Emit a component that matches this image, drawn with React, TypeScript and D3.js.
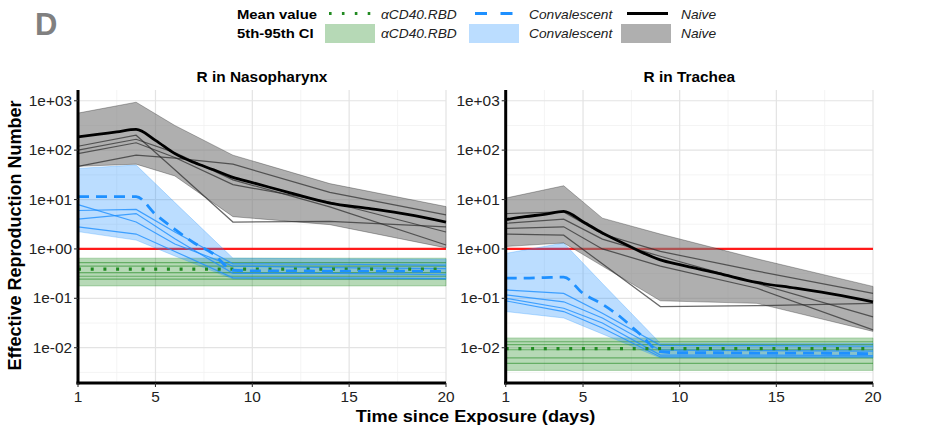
import React from "react";
import * as d3 from "d3";

// ---------- data ----------
const DAYS_MEAN = [1, 2, 3, 4, 5, 6, 7, 8, 9, 10, 12, 14, 16, 18, 20];
const DAYS_BAND = [1, 4, 6, 9, 14, 20];

// R in Nasopharynx
const NP_NAIVE_MEAN = [186, 209, 234, 263, 158, 85, 56, 40, 28, 22, 13.5, 8.5, 6.6, 5.0, 3.5];
const NP_NAIVE_HI = [562, 933, 316, 79, 21, 7.2];
const NP_NAIVE_LO = [47, 52, 30, 4.5, 3.1, 1.05];
const NP_NAIVE_IND = [
  [120, 200, 40, 3.5, 3.6, 2.8],
  [100, 166, 89, 25, 7.1, 1.2],
  [85, 141, 71, 20, 8.9, 2.2],
  [47, 79, 69, 52, 14, 4.9],
];
const NP_CONV_MEAN = [11.5, 11.5, 11.5, 11.5, 5.0, 2.5, 1.32, 0.79, 0.37, 0.36, 0.36, 0.355, 0.355, 0.355, 0.35];
const NP_CONV_HI = [42.7, 50, 8.7, 0.65, 0.63, 0.62];
const NP_CONV_LO = [2.24, 1.51, 0.72, 0.245, 0.24, 0.24];
const NP_CONV_IND = [
  [7.9, 3.5, 1.26, 0.45, 0.42, 0.4],
  [6.0, 6.3, 2.2, 0.5, 0.49, 0.47],
  [4.0, 5.2, 1.6, 0.32, 0.32, 0.3],
  [2.8, 2.0, 0.89, 0.26, 0.26, 0.25],
];
const NP_CD40_MEAN = [0.39, 0.39, 0.39, 0.39, 0.39, 0.39];
const NP_CD40_HI = [0.65, 0.65, 0.65, 0.65, 0.65, 0.65];
const NP_CD40_LO = [0.178, 0.178, 0.178, 0.178, 0.178, 0.178];
const NP_CD40_IND = [
  [0.53, 0.53, 0.53, 0.53, 0.53, 0.53],
  [0.45, 0.45, 0.45, 0.45, 0.45, 0.45],
  [0.33, 0.33, 0.33, 0.33, 0.33, 0.33],
  [0.28, 0.28, 0.28, 0.28, 0.28, 0.28],
  [0.245, 0.245, 0.245, 0.245, 0.245, 0.245],
];

// R in Trachea
const TR_NAIVE_MEAN = [3.9, 4.5, 5.0, 5.75, 3.55, 2.1, 1.35, 0.87, 0.6, 0.48, 0.32, 0.21, 0.16, 0.12, 0.085];
const TR_NAIVE_HI = [10.7, 19, 4.2, 2.0, 0.63, 0.174];
const TR_NAIVE_LO = [1.12, 1.32, 0.45, 0.089, 0.079, 0.0214];
const TR_NAIVE_IND = [
  [5.2, 5.6, 2.0, 0.89, 0.355, 0.126],
  [3.3, 4.0, 1.58, 0.71, 0.2, 0.042],
  [2.6, 2.8, 1.0, 0.45, 0.16, 0.023],
  [2.0, 1.9, 0.5, 0.068, 0.071, 0.079],
];
const TR_CONV_MEAN = [0.257, 0.257, 0.263, 0.269, 0.126, 0.076, 0.04, 0.018, 0.0083, 0.0079, 0.0079, 0.0078, 0.0078, 0.0077, 0.0076];
const TR_CONV_HI = [0.81, 1.32, 0.2, 0.0123, 0.0123, 0.0123];
const TR_CONV_LO = [0.054, 0.04, 0.019, 0.0062, 0.0062, 0.0062];
const TR_CONV_IND = [
  [0.148, 0.126, 0.05, 0.0112, 0.011, 0.0107],
  [0.117, 0.085, 0.04, 0.0089, 0.0087, 0.0085],
  [0.1, 0.063, 0.0316, 0.0071, 0.0071, 0.0069],
  [0.089, 0.054, 0.025, 0.0065, 0.0065, 0.0065],
];
const TR_CD40_MEAN = [0.0096, 0.0096, 0.0096, 0.0096, 0.0096, 0.0096];
const TR_CD40_HI = [0.0158, 0.0158, 0.0158, 0.0158, 0.0158, 0.0158];
const TR_CD40_LO = [0.00347, 0.00347, 0.00347, 0.00347, 0.00347, 0.00347];
const TR_CD40_IND = [
  [0.0132, 0.0132, 0.0132, 0.0132, 0.0132, 0.0132],
  [0.0115, 0.0115, 0.0115, 0.0115, 0.0115, 0.0115],
  [0.0091, 0.0091, 0.0091, 0.0091, 0.0091, 0.0091],
  [0.0062, 0.0062, 0.0062, 0.0062, 0.0062, 0.0062],
  [0.0048, 0.0048, 0.0048, 0.0048, 0.0048, 0.0048],
];

const PANEL_TITLES = ["R in Nasopharynx", "R in Trachea"];
const X_TICKS = [1, 5, 10, 15, 20];
const X_MINOR = [3, 7.5, 12.5, 17.5];
const Y_TICKS = [1000, 100, 10, 1, 0.1, 0.01];
const Y_TICK_LABELS = ["1e+03", "1e+02", "1e+01", "1e+00", "1e-01", "1e-02"];
const Y_MINOR_EXP = [2.5, 1.5, 0.5, -0.5, -1.5, -2.5];
const THRESHOLD = 1;
const Y_DOMAIN = [0.00193, 1650];
const X_DOMAIN = [1, 20];

const LEGEND_GROUPS = ["αCD40.RBD", "Convalescent", "Naive"];

// ---------- styling ----------
const FONT = "'Liberation Sans', Arial, Helvetica, sans-serif";
const SX = 1.1;
const COL = {
  cd40: "#228b22",
  conv: "#1e90ff",
  naive: "#000000",
};

const PANELS = [
  { x0: 78, x1: 446 },
  { x0: 505.7, x1: 873 },
];
const Y_TOP = 90;
const Y_BOT = 383;

function Txt(props: any) {
  const { x, y, children, anchor = "start", size = 14, weight = "normal", italic = false, fill = "#000", sx = SX, rotate = 0 } = props;
  return (
    <text
      transform={`translate(${x},${y}) rotate(${rotate}) scale(${sx},1)`}
      textAnchor={anchor}
      fontSize={size}
      fontWeight={weight}
      fontStyle={italic ? "italic" : "normal"}
      fontFamily={FONT}
      fill={fill}
    >
      {children}
    </text>
  );
}

function Panel({ idx, groups }: any) {
  const { x0, x1 } = PANELS[idx];
  const x = d3.scaleLinear().domain(X_DOMAIN).range([x0, x1]);
  const y = d3.scaleLog().domain(Y_DOMAIN).range([Y_BOT, Y_TOP]);
  const line = (days: number[]) =>
    d3.line<number>().x((_, i) => x(days[i])).y((d) => y(d));
  const area = d3
    .area<number[]>()
    .x((d) => x(d[0]))
    .y0((d) => y(d[1]))
    .y1((d) => y(d[2]));

  return (
    <g>
      {/* grid */}
      {Y_MINOR_EXP.map((e) => (
        <line key={"ym" + e} x1={x0} x2={x1} y1={y(Math.pow(10, e))} y2={y(Math.pow(10, e))} stroke="#f1f1f1" strokeWidth={0.8} />
      ))}
      {X_MINOR.map((d) => (
        <line key={"xm" + d} x1={x(d)} x2={x(d)} y1={Y_TOP} y2={Y_BOT} stroke="#f1f1f1" strokeWidth={0.8} />
      ))}
      {Y_TICKS.map((t) => (
        <line key={"yg" + t} x1={x0} x2={x1} y1={y(t)} y2={y(t)} stroke="#e3e3e3" strokeWidth={1.2} />
      ))}
      {X_TICKS.map((d) => (
        <line key={"xg" + d} x1={x(d)} x2={x(d)} y1={Y_TOP} y2={Y_BOT} stroke="#e3e3e3" strokeWidth={1.2} />
      ))}
      {/* threshold */}
      <line x1={x0} x2={x1} y1={y(THRESHOLD)} y2={y(THRESHOLD)} stroke="#ff1a1a" strokeWidth={2.2} />
      {/* bands */}
      {groups.map((g: any, gi: number) => (
        <path
          key={"b" + gi}
          d={area(DAYS_BAND.map((d, i) => [d, g.lo[i], g.hi[i]])) || ""}
          fill={g.fill}
          fillOpacity={g.fillOpacity}
          stroke={g.color}
          strokeOpacity={0.35}
          strokeWidth={0.8}
        />
      ))}
      {/* individual trajectories */}
      {groups.map((g: any, gi: number) =>
        g.ind.map((v: number[], k: number) => (
          <path
            key={"i" + gi + "_" + k}
            d={line(DAYS_BAND)(v) || ""}
            fill="none"
            stroke={g.indColor}
            strokeOpacity={g.indOpacity}
            strokeWidth={1.2}
          />
        ))
      )}
      {/* means */}
      {groups.map((g: any, gi: number) => (
        <path
          key={"m" + gi}
          d={line(g.meanDays).curve(d3.curveMonotoneX)(g.mean) || ""}
          fill="none"
          stroke={g.color}
          strokeWidth={g.meanWidth}
          strokeDasharray={g.dash}
        />
      ))}
      {/* axes */}
      <line x1={x0} x2={x0} y1={Y_TOP} y2={Y_BOT + 1.5} stroke="#000" strokeWidth={3} />
      <line x1={x0 - 1.5} x2={x1} y1={Y_BOT} y2={Y_BOT} stroke="#000" strokeWidth={3} />
      {Y_TICKS.map((t, i) => (
        <g key={"yt" + t}>
          <line x1={x0 - 4} x2={x0} y1={y(t)} y2={y(t)} stroke="#333" strokeWidth={1.1} />
          <Txt x={x0 - 6} y={y(t) + 5} anchor="end" size={14} fill="#222">
            {Y_TICK_LABELS[i]}
          </Txt>
        </g>
      ))}
      {X_TICKS.map((d) => (
        <g key={"xt" + d}>
          <line x1={x(d)} x2={x(d)} y1={Y_BOT} y2={Y_BOT + 4} stroke="#333" strokeWidth={1.1} />
          <Txt x={x(d)} y={402} anchor="middle" size={14} fill="#222">
            {String(d)}
          </Txt>
        </g>
      ))}
      <Txt x={(x0 + x1) / 2} y={82} anchor="middle" size={14} weight="bold">
        {PANEL_TITLES[idx]}
      </Txt>
    </g>
  );
}

function makeGroups(cd40: any, conv: any, naive: any) {
  return [
    {
      ...cd40,
      meanDays: DAYS_BAND,
      color: COL.cd40,
      fill: COL.cd40,
      fillOpacity: 0.33,
      indColor: COL.cd40,
      indOpacity: 0.55,
      meanWidth: 3.2,
      dash: "3 9.7",
    },
    {
      ...conv,
      meanDays: DAYS_MEAN,
      color: COL.conv,
      fill: COL.conv,
      fillOpacity: 0.3,
      indColor: COL.conv,
      indOpacity: 0.8,
      meanWidth: 2.8,
      dash: "11 7",
    },
    {
      ...naive,
      meanDays: DAYS_MEAN,
      color: COL.naive,
      fill: "#7a7a7a",
      fillOpacity: 0.6,
      indColor: "#2a2a2a",
      indOpacity: 0.7,
      meanWidth: 2.8,
      dash: undefined,
    },
  ];
}

const NP_GROUPS = makeGroups(
  { mean: NP_CD40_MEAN, hi: NP_CD40_HI, lo: NP_CD40_LO, ind: NP_CD40_IND },
  { mean: NP_CONV_MEAN, hi: NP_CONV_HI, lo: NP_CONV_LO, ind: NP_CONV_IND },
  { mean: NP_NAIVE_MEAN, hi: NP_NAIVE_HI, lo: NP_NAIVE_LO, ind: NP_NAIVE_IND }
);
const TR_GROUPS = makeGroups(
  { mean: TR_CD40_MEAN, hi: TR_CD40_HI, lo: TR_CD40_LO, ind: TR_CD40_IND },
  { mean: TR_CONV_MEAN, hi: TR_CONV_HI, lo: TR_CONV_LO, ind: TR_CONV_IND },
  { mean: TR_NAIVE_MEAN, hi: TR_NAIVE_HI, lo: TR_NAIVE_LO, ind: TR_NAIVE_IND }
);

function Legend() {
  const keyX = [325, 469, 621];
  const labX = [381, 529, 681];
  return (
    <g>
      <Txt x={237} y={18.5} size={13.5} weight="bold">Mean value</Txt>
      <Txt x={237} y={37.5} size={13.5} weight="bold">5th-95th CI</Txt>
      {/* row 1 keys */}
      <line x1={keyX[0] + 4} x2={keyX[0] + 48} y1={13.5} y2={13.5} stroke={COL.cd40} strokeWidth={3} strokeDasharray="2.6 10.3" />
      <line x1={keyX[1] + 6} x2={keyX[1] + 44} y1={13.5} y2={13.5} stroke={COL.conv} strokeWidth={3} strokeDasharray="12 13.5" />
      <line x1={keyX[2] + 6} x2={keyX[2] + 47} y1={13.5} y2={13.5} stroke="#000" strokeWidth={3} />
      {/* row 2 keys */}
      <rect x={keyX[0]} y={24} width={50} height={19} fill={COL.cd40} fillOpacity={0.33} />
      <rect x={keyX[1]} y={24} width={50} height={19} fill={COL.conv} fillOpacity={0.3} />
      <rect x={keyX[2]} y={24} width={50} height={19} fill="#7a7a7a" fillOpacity={0.6} />
      {LEGEND_GROUPS.map((g, i) => (
        <g key={g}>
          <Txt x={labX[i]} y={18.5} size={12.5} italic fill="#222">{g}</Txt>
          <Txt x={labX[i]} y={37.5} size={12.5} italic fill="#222">{g}</Txt>
        </g>
      ))}
    </g>
  );
}

export default function App() {
  return (
    <svg
      width={927}
      height={428}
      viewBox="0 0 927 428"
      style={{ position: "absolute", left: 0, top: 0, background: "#fff" }}
    >
      <rect x={0} y={0} width={927} height={428} fill="#fff" />
      <Txt x={35} y={35} size={31} weight="bold" fill="#808080" sx={1.0}>D</Txt>
      <Legend />
      <Panel idx={0} groups={NP_GROUPS} />
      <Panel idx={1} groups={TR_GROUPS} />
      <Txt x={475.5} y={422} anchor="middle" size={16.5} weight="bold">
        Time since Exposure (days)
      </Txt>
      <Txt x={21} y={235.5} anchor="middle" size={18} weight="bold" rotate={-90} sx={1.0}>
        Effective Reproduction Number
      </Txt>
    </svg>
  );
}
